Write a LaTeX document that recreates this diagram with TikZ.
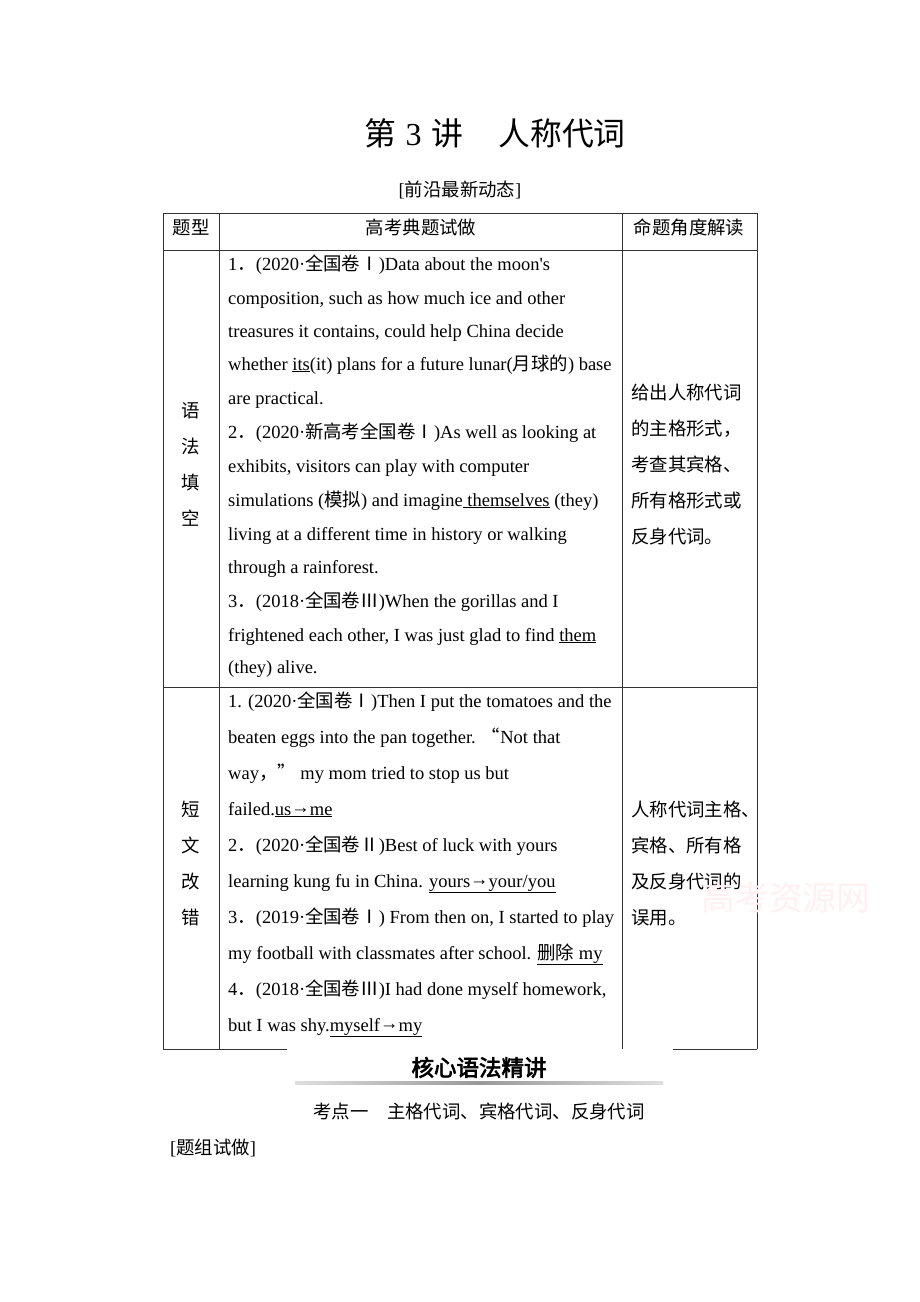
\documentclass[tikz,border=0pt]{standalone}
\usepackage{fontspec}
\setmainfont{Liberation Serif}
\newfontfamily\cjk[Scale=0.995]{Noto Sans CJK SC}
\newfontfamily\cjkb[FakeBold=3]{Noto Sans CJK SC}
\newcommand\zh[1]{{\cjk #1}}
\newcommand\ul[1]{\underline{#1}}
\newcommand\arr{\raisebox{1.5pt}{→}}
\tikzset{
  tl/.style={anchor=base west, inner sep=0pt},
  cc/.style={anchor=base, inner sep=0pt},
  rule/.style={line width=0.9pt, draw=black!80},
}
\begin{document}
\begin{tikzpicture}[x=1pt, y=-1pt, font=\fontsize{18.5}{22}\selectfont]
\useasboundingbox[fill=white] (0,0) rectangle (920,1302);
% title
\node[cc, font=\fontsize{32}{36}\selectfont] (title) at (495,145) {\zh{第}\hspace{0.3em}3\hspace{0.3em}\zh{讲}\hspace{1.1em}\zh{人称代词}};
\node[cc] (sub) at (460,196) {[\zh{前沿最新动态}]};
% table
\draw[rule] (163,1049) -- (163,213) -- (757,213) -- (757,1049);
\draw[rule] (219,213) -- (219,1049);
\draw[rule] (622,213) -- (622,1049);
\draw[rule] (163,250) -- (757,250);
\draw[rule] (163,687) -- (757,687);
\draw[rule] (163,1049) -- (287,1049);
\draw[rule] (673,1049) -- (757,1049);
% header
\node[cc] (h1) at (191,234) {\zh{题型}};
\node[cc] (h2) at (421,234) {\zh{高考典题试做}};
\node[cc] (h3) at (689,234) {\zh{命题角度解读}};
% row 1 col 1
\node[cc] (a1) at (191,417) {\zh{语}};
\node[cc] (a2) at (191,453) {\zh{法}};
\node[cc] (a3) at (191,489) {\zh{填}};
\node[cc] (a4) at (191,525) {\zh{空}};
% row 1 col 2
\node[tl] (b1) at (228,270) {1\zh{．}(2020·\zh{全国卷Ⅰ})Data about the moon\textquotesingle s};
\node[tl] (b2) at (228,304) {composition, such as how much ice and other};
\node[tl] (b3) at (228,337) {treasures it contains, could help China decide};
\node[tl] (b4) at (228,370) {whether \ul{its}(it) plans for a future lunar(\zh{月球的}) base};
\node[tl] (b5) at (228,404) {are practical.};
\node[tl] (b6) at (228,438) {2\zh{．}(2020·\zh{新高考全国卷Ⅰ})As well as looking at};
\node[tl] (b7) at (228,472) {exhibits, visitors can play with computer};
\node[tl] (b8) at (228,506) {simulations (\zh{模拟}) and imagine\ul{\ themselves} (they)};
\node[tl] (b9) at (228,540) {living at a different time in history or walking};
\node[tl] (b10) at (228,573) {through a rainforest.};
\node[tl] (b11) at (228,607) {3\zh{．}(2018·\zh{全国卷Ⅲ})When the gorillas and I};
\node[tl] (b12) at (228,641) {frightened each other, I was just glad to find \ul{them}};
\node[tl] (b13) at (228,673) {(they) alive.};
% row 1 col 3
\node[tl] (c1) at (631,399) {\zh{给出人称代词}};
\node[tl] (c2) at (631,435) {\zh{的主格形式，}};
\node[tl] (c3) at (631,471) {\zh{考查其宾格、}};
\node[tl] (c4) at (631,507) {\zh{所有格形式或}};
\node[tl] (c5) at (631,543) {\zh{反身代词。}};
% row 2 col 1
\node[cc] (d1) at (191,816) {\zh{短}};
\node[cc] (d2) at (191,852) {\zh{文}};
\node[cc] (d3) at (191,888) {\zh{改}};
\node[cc] (d4) at (191,924) {\zh{错}};
% row 2 col 2
\node[tl] (e1) at (228,707) {1. (2020·\zh{全国卷Ⅰ})Then I put the tomatoes and the};
\node[tl] (e2) at (228,743) {beaten eggs into the pan together. \zh{“}Not that};
\node[tl] (e3) at (228,779) {way\zh{，”} my mom tried to stop us but};
\node[tl] (e4) at (228,815) {failed.\ul{us\arr me}};
\node[tl] (e5) at (228,851) {2\zh{．}(2020·\zh{全国卷Ⅱ})Best of luck with yours};
\node[tl] (e6) at (228,887) {learning kung fu in China. \ul{yours\arr your/you}};
\node[tl] (e7) at (228,923) {3\zh{．}(2019·\zh{全国卷Ⅰ}) From then on, I started to play};
\node[tl] (e8) at (228,959) {my football with classmates after school. \ul{\zh{删除} my}};
\node[tl] (e9) at (228,995) {4\zh{．}(2018·\zh{全国卷Ⅲ})I had done myself homework,};
\node[tl] (e10) at (228,1031) {but I was shy.\ul{myself\arr my}};
% row 2 col 3
\node[tl] (f1) at (631,816) {\zh{人称代词主格、}};
\node[tl] (f2) at (631,852) {\zh{宾格、所有格}};
\node[tl] (f3) at (631,888) {\zh{及反身代词的}};
\node[tl] (f4) at (631,924) {\zh{误用。}};
% watermark
\node[cc, text={rgb,1:red,1;green,0.94;blue,0.95}, font=\fontsize{34}{36}\selectfont] (wm) at (786,910) {\zh{高考资源网}};
% section heading
\node[cc, font=\fontsize{22.5}{26}\selectfont] (sec) at (479,1076) {\cjkb 核心语法精讲};
\shade[left color=gray!25, right color=gray!25, middle color=gray!80] (295,1081) rectangle (663,1084);
\node[cc] (kp) at (479,1118) {\zh{考点一}\hspace{1em}\zh{主格代词、宾格代词、反身代词}};
\node[tl] (tz) at (170,1154) {[\zh{题组试做}]};
\end{tikzpicture}
\end{document}
